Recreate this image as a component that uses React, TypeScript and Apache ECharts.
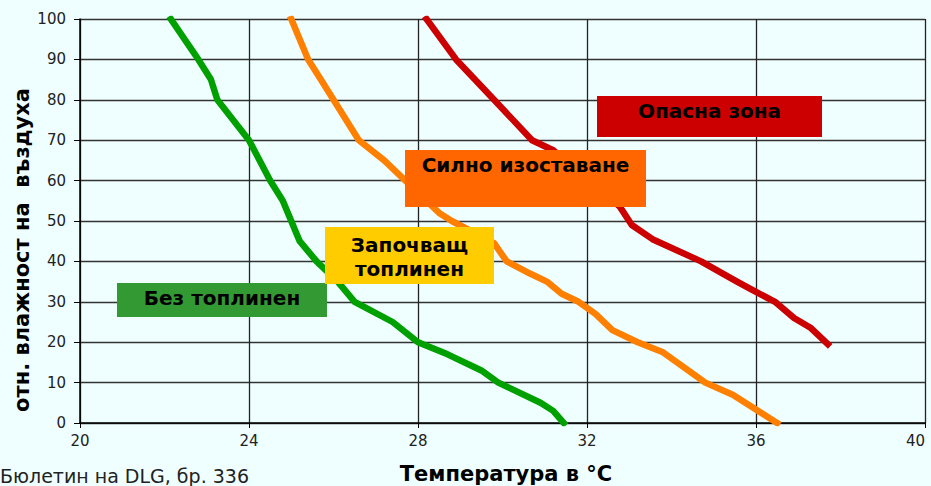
import React, { useEffect, useRef } from "react";
import * as echarts from "echarts";

// Temperature (°C) and relative humidity (%) pairs for each zone boundary
const greenTemp = [22.15, 22.8, 23.1, 23.25, 24.0, 24.5, 24.8, 25.0, 25.2, 25.6, 26.1, 26.5, 27.4, 28.0, 28.7, 29.5, 29.9, 30.9, 31.2, 31.45];
const greenHum = [100, 90, 85, 80, 70, 60, 55, 50, 45, 40, 35, 30, 25, 20, 17, 13, 10, 5, 3, 0];

const orangeTemp = [25.0, 25.4, 25.7, 26.0, 26.6, 27.2, 27.7, 28.5, 28.8, 29.8, 30.1, 30.65, 31.05, 31.4, 31.8, 32.2, 32.6, 33.2, 33.8, 34.8, 35.45, 36.5];
const orangeHum = [100, 90, 85, 80, 70, 65, 60, 52, 50, 44.5, 40, 37, 35, 32, 30, 27, 23, 20, 17.5, 10, 7, 0];

const redTemp = [28.2, 28.9, 29.8, 30.7, 31.2, 32.78, 33.06, 33.55, 34.7, 35.55, 35.9, 36.45, 36.9, 37.3, 37.7];
const redHum = [100, 90, 80, 70, 67.5, 53.5, 49, 45.5, 40, 35, 33, 30, 26, 23.5, 19.5];

const zoneLabels = ["Без топлинен", "Започващ\nтоплинен", "Силно изоставане\n ", "Опасна зона"];
const xTitle = "Температура в °C";
const yTitle = "отн. влажност на  въздуха";
const sourceText = "Бюлетин на DLG, бр. 336";

const FONT = "'DejaVu Sans', Verdana, sans-serif";

const pairs = (xs: number[], ys: number[]) => xs.map((x, i) => [x, ys[i]]);

export default function App() {
  const ref = useRef<HTMLDivElement>(null);
  useEffect(() => {
    document.body.style.margin = "0";
    const chart = echarts.init(ref.current!, null, { renderer: "svg" });
    const box = (x: number, y: number, w: number, h: number, fill: string, text: string, dy: number) => ({
      type: "group",
      z: 100,
      children: [
        { type: "rect", shape: { x, y, width: w, height: h }, style: { fill }, z: 100 },
        {
          type: "text",
          z: 101,
          style: {
            text,
            x: x + w / 2,
            y: y + h / 2 + dy,
            align: "center",
            verticalAlign: "middle",
            font: `bold 20px ${FONT}`,
            fill: "#000",
            lineHeight: 24,
          },
        },
      ],
    });
    const lineSeries = (data: number[][], color: string) => ({
      type: "line",
      data,
      symbol: "none",
      lineStyle: { color, width: 6.5, cap: "square", join: "round" },
      z: 5,
    });
    chart.setOption({
      animation: false,
      backgroundColor: "#efffff",
      grid: { left: 80, right: 6, top: 19, bottom: 63, outerBoundsMode: "none", containLabel: false },
      xAxis: {
        type: "value",
        min: 20,
        max: 40,
        interval: 4,
        axisLine: { show: true, lineStyle: { color: "#000", width: 1.5 } },
        axisTick: { show: true, length: 5, lineStyle: { color: "#000" } },
        axisLabel: { color: "#222", fontSize: 15, fontFamily: FONT, margin: 10, alignMaxLabel: "right" },
        splitLine: { show: true, lineStyle: { color: "#222", width: 1.3 } },
      },
      yAxis: {
        type: "value",
        min: 0,
        max: 100,
        interval: 10,
        axisLine: { show: true, lineStyle: { color: "#000", width: 1.5 } },
        axisTick: { show: true, length: 6, lineStyle: { color: "#000" } },
        axisLabel: { color: "#222", fontSize: 15, fontFamily: FONT, margin: 14 },
        splitLine: { show: true, lineStyle: { color: "#333", width: 1.3 } },
      },
      series: [
        lineSeries(pairs(greenTemp, greenHum), "#00a000"),
        lineSeries(pairs(orangeTemp, orangeHum), "#ff8000"),
        lineSeries(pairs(redTemp, redHum), "#cc0000"),
      ],
      graphic: [
        box(117, 283, 210, 34, "#339933", zoneLabels[0], -2.5),
        box(325, 227, 169, 57, "#ffcc00", zoneLabels[1], 1),
        box(405, 150, 241, 57, "#ff6600", zoneLabels[2], -1.5),
        box(597, 96, 225, 41, "#cc0000", zoneLabels[3], -6),
        {
          type: "text",
          z: 100,
          style: {
            text: xTitle,
            x: 506,
            y: 474,
            align: "center",
            verticalAlign: "middle",
            font: `bold 21px ${FONT}`,
            fill: "#000",
          },
        },
        {
          type: "text",
          z: 100,
          x: 22,
          y: 250,
          rotation: Math.PI / 2,
          style: {
            text: yTitle,
            x: 0,
            y: 0,
            align: "center",
            verticalAlign: "middle",
            font: `bold 21px ${FONT}`,
            fill: "#000",
          },
        },
        {
          type: "text",
          z: 100,
          style: {
            text: sourceText,
            x: 0,
            y: 485,
            align: "left",
            verticalAlign: "bottom",
            font: `19px ${FONT}`,
            fill: "#222",
          },
        },
      ],
    });
    return () => chart.dispose();
  }, []);
  return <div ref={ref} style={{ width: 931, height: 486 }} />;
}
